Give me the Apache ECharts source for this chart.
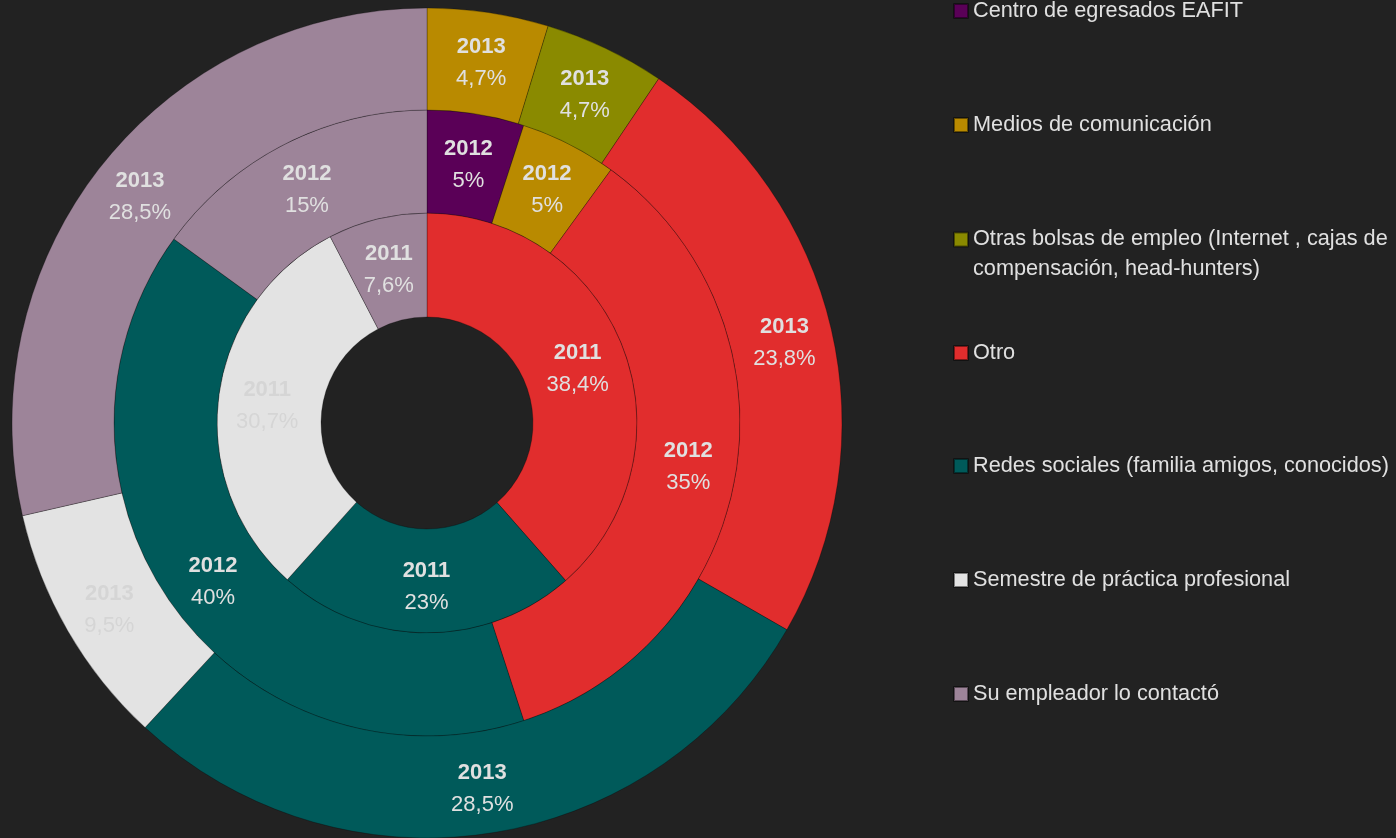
<!DOCTYPE html>
<html>
<head>
<meta charset="utf-8">
<script src="https://cdn.jsdelivr.net/npm/echarts@6/dist/echarts.min.js"></script>
<style>
html,body{margin:0;padding:0;background:#222222;}
#chart{width:1396px;height:838px;}
</style>
</head>
<body>
<div id="chart"></div>
<script>
// Categories (legend order)
var categories = [
  "Centro de egresados EAFIT",
  "Medios de comunicación",
  "Otras bolsas de empleo (Internet , cajas de compensación, head-hunters)",
  "Otro",
  "Redes sociales (familia amigos, conocidos)",
  "Semestre de práctica profesional",
  "Su empleador lo contactó"
];
// Ring years
var years = ["2011", "2012", "2013"];
// Values per year (percent), clockwise from top
var cats2011 = ["Otro", "Redes sociales (familia amigos, conocidos)", "Semestre de práctica profesional", "Su empleador lo contactó"];
var vals2011 = [38.4, 23, 30.7, 7.6];
var cats2012 = ["Centro de egresados EAFIT", "Medios de comunicación", "Otro", "Redes sociales (familia amigos, conocidos)", "Su empleador lo contactó"];
var vals2012 = [5, 5, 35, 40, 15];
var cats2013 = ["Medios de comunicación", "Otras bolsas de empleo (Internet , cajas de compensación, head-hunters)", "Otro", "Redes sociales (familia amigos, conocidos)", "Semestre de práctica profesional", "Su empleador lo contactó"];
var vals2013 = [4.7, 4.7, 23.8, 28.5, 9.5, 28.5];

var colorList = ["#5a0057", "#b98a00", "#8a8a00", "#e12d2d", "#005a5a", "#e3e3e3", "#9d8499"];
var colorOf = {};
categories.forEach(function (c, i) { colorOf[c] = colorList[i]; });

var FONT = "'Liberation Sans Narrow', 'Arial Narrow', 'Liberation Sans', Arial, sans-serif";
var TXT = "#e0e0e0";
var LBL = 22;

function ringData(cats, vals) {
  return cats.map(function (c, i) {
    var d = { name: c, value: vals[i], itemStyle: { color: colorOf[c] } };
    if (c === "Semestre de práctica profesional") {
      d.label = { color: "#d5d5d5", rich: { y: { color: "#d5d5d5" }, p: { color: "#d5d5d5" } } };
    }
    return d;
  });
}

function ring(year, cats, vals, r0, r1) {
  return {
    type: "pie",
    name: year,
    center: [427, 423],
    radius: [r0, r1],
    startAngle: 90,
    clockwise: true,
    avoidLabelOverlap: false,
    animation: false,
    emphasis: { scale: false },
    itemStyle: { borderColor: "rgba(0,0,0,0.45)", borderWidth: 0.6 },
    label: {
      show: true,
      position: "inside",
      fontFamily: FONT,
      color: TXT,
      padding: [6, 0, 0, 0],
      formatter: function (p) {
        return "{y|" + year + "}\n{p|" + String(p.value).replace(".", ",") + "%}";
      },
      rich: {
        y: { fontFamily: FONT, fontSize: LBL, fontWeight: "bold", color: TXT, lineHeight: 32 },
        p: { fontFamily: FONT, fontSize: LBL, color: TXT, lineHeight: 32 }
      }
    },
    labelLine: { show: false },
    data: ringData(cats, vals)
  };
}

var legendCenters = [11, 125, 239.5, 353, 466, 580, 694];
var legends = categories.map(function (c, i) {
  var twoLine = c.indexOf("compensación") >= 0;
  return {
    orient: "vertical",
    left: 953,
    top: twoLine ? legendCenters[i] - 45 : legendCenters[i] - 15,
    padding: 0,
    itemWidth: 14,
    itemHeight: 14,
    itemGap: 6,
    icon: "rect",
    data: [c],
    formatter: function (n) {
      return n.indexOf(" compensación") >= 0 ? "\n" + n.replace(" compensación", "\ncompensación") : n;
    },
    textStyle: {
      fontFamily: FONT,
      fontSize: 21.7,
      color: TXT,
      lineHeight: 30
    }
  };
});

var chart = echarts.init(document.getElementById("chart"));
chart.setOption({
  backgroundColor: "#222222",
  legend: legends,
  series: [
    ring(years[0], cats2011, vals2011, 106, 210),
    ring(years[1], cats2012, vals2012, 210, 313),
    ring(years[2], cats2013, vals2013, 313, 415)
  ]
});
</script>
</body>
</html>
